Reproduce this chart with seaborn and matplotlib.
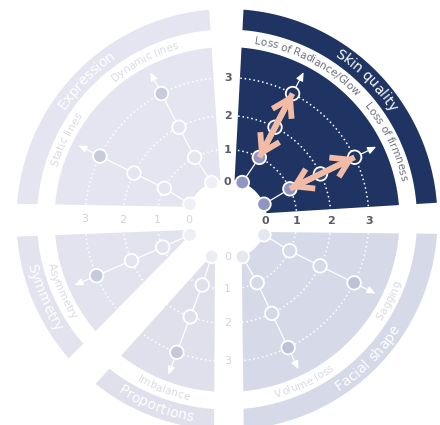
import numpy as np
import pandas as pd
import matplotlib
matplotlib.use("Agg")
import matplotlib.pyplot as plt
import seaborn as sns
from matplotlib.patches import Polygon, FancyArrowPatch
from matplotlib.font_manager import FontProperties, findfont, get_font

# ---------------- data ----------------
categories = ["Skin quality", "Expression", "Symmetry", "Proportions", "Facial shape"]
indicators = ["Loss of firmness", "Loss of Radiance/Glow", "Dynamic lines", "Static lines",
              "Asymmetry", "Imbalance", "Volume loss", "Sagging"]
indicator_category = ["Skin quality", "Skin quality", "Expression", "Expression",
                      "Symmetry", "Proportions", "Facial shape", "Facial shape"]
levels = [0, 1, 2, 3]
level_labels = ["0", "1", "2", "3"]
current_level = [1, 1, 3, 3, 3, 3, 3, 3]
target_level = [3, 3, None, None, None, None, None, None]
highlighted = "Skin quality"

# ---------------- layout / style ----------------
LEVEL_R = [40, 70, 104, 142]          # radial scale (px) for levels 0..3
TIP_R = 166
R_HOLE, R_WEDGE, R_BAND_IN, R_BAND_OUT = 40, 172.5, 190, 210.5
spoke_angle = [26, 62.5, 117.5, 153.5, 203.3, 249.3, 295.5, 333.5]
inner_angle = [22.5, 67.5, 112.5, 157.5, 202.5, 247.5, 292.5, 337.5]
sector_edges = {
    "Skin quality": (3.5, 3.9, 87.0, 5.5),
    "Expression": (93.8, 4.0, 179.0, 12.0),
    "Symmetry": (182.2, 9.0, 225.5, 15.5),
    "Proportions": (228.0, 12.4, 269.7, 11.8),
    "Facial shape": (270.7, 14.2, 359.4, 12.1),
}
sector_color = {
    "Skin quality": "#1f3462",
    "Expression": "#e4e5f0",
    "Symmetry": "#e2e3ef",
    "Proportions": "#dfe0ec",
    "Facial shape": "#d6d9e7",
}
NAVY = "#1f3462"
LAVENDER = "#9195c6"
MID_NAVY = "#34487b"
PEACH = "#f2bba6"
FONT = "DejaVu Sans"


def radius(level):
    return np.interp(level, levels, LEVEL_R)


def mix(c1, c2, t):
    a = np.array(matplotlib.colors.to_rgb(c1))
    b = np.array(matplotlib.colors.to_rgb(c2))
    return matplotlib.colors.to_hex((1 - t) * a + t * b)


def pol(r, deg):
    a = np.radians(deg)
    return r * np.cos(a), r * np.sin(a)


def edge_point(phi, d, r, start):
    p = np.radians(phi)
    u = np.array([np.cos(p), np.sin(p)])
    n = np.array([-np.sin(p), np.cos(p)]) if start else np.array([np.sin(p), -np.cos(p)])
    s = np.sqrt(max(r * r - d * d, 0))
    return d * n + s * u


def ang_of(v):
    return np.degrees(np.arctan2(v[1], v[0])) % 360


def sector_poly(edges, r_in, r_out, n=160):
    phi1, d1, phi2, d2 = edges
    a1o = ang_of(edge_point(phi1, d1, r_out, True))
    a2o = ang_of(edge_point(phi2, d2, r_out, False))
    a1i = ang_of(edge_point(phi1, d1, r_in, True))
    a2i = ang_of(edge_point(phi2, d2, r_in, False))
    if a2o < a1o:
        a2o += 360
    if a2i < a1i:
        a2i += 360
    to = np.radians(np.linspace(a1o, a2o, n))
    ti = np.radians(np.linspace(a2i, a1i, n))
    xs = np.concatenate([r_out * np.cos(to), r_in * np.cos(ti)])
    ys = np.concatenate([r_out * np.sin(to), r_in * np.sin(ti)])
    return np.column_stack([xs, ys]), (a1o + a2o) / 2


def char_adv(text, size, weight="normal"):
    fp = FontProperties(family=FONT, weight=weight, size=size)
    font = get_font(findfont(fp))
    font.set_size(size, 100)
    return np.array([font.load_char(ord(ch)).linearHoriAdvance / 65536.0 for ch in text])


def arc_text(ax, text, center_deg, r_mid, size, color, clockwise, weight="normal", z=8):
    adv = char_adv(text, size, weight)
    total = adv.sum()
    offs = np.cumsum(np.concatenate([[0], adv[:-1]])) + adv / 2 - total / 2
    em = size * 100 / 72.0
    for ch, o in zip(text, offs):
        if ch == " ":
            continue
        if clockwise:
            ang = center_deg - np.degrees(o / r_mid)
            rb = r_mid - 0.33 * em
            rot = ang - 90
        else:
            ang = center_deg + np.degrees(o / r_mid)
            rb = r_mid + 0.33 * em
            rot = ang + 90
        x, y = pol(rb, ang)
        ax.text(x, y, ch, rotation=rot, rotation_mode="anchor", ha="center",
                va="baseline", fontsize=size, color=color, family=FONT,
                fontweight=weight, zorder=z)


sns.set_theme(style="white")
plt.rcParams["font.family"] = [FONT]

fig = plt.figure(figsize=(4.4, 4.25), dpi=100)
ax = fig.add_axes([0, 0, 1, 1])
ax.set_xlim(-227, 213)
ax.set_ylim(-205.5, 219.5)
ax.axis("off")

# ---- sectors and bands ----
label_clockwise = {"Skin quality": True, "Expression": True, "Symmetry": False,
                   "Proportions": False, "Facial shape": False}
for cat in categories:
    col = sector_color[cat]
    verts, mid = sector_poly(sector_edges[cat], R_HOLE, R_WEDGE)
    ax.add_patch(Polygon(verts, closed=True, facecolor=col, edgecolor="none", zorder=1))
    verts_b, mid_b = sector_poly(sector_edges[cat], R_BAND_IN, R_BAND_OUT)
    ax.add_patch(Polygon(verts_b, closed=True, facecolor=col, edgecolor="none", zorder=1))
    arc_text(ax, cat, mid_b, (R_BAND_IN + R_BAND_OUT) / 2, 10, "white", label_clockwise[cat])

# ---- dotted level rings ----
th = np.linspace(0, 2 * np.pi, 721)
for lv in levels[1:]:
    r = radius(lv)
    ax.plot(r * np.cos(th), r * np.sin(th), color="white", lw=1.1,
            linestyle=(0, (1, 1.9)), zorder=2)

# ---- build point and spoke tables ----
rows, spokes = [], []
for i, ind in enumerate(indicators):
    cat = indicator_category[i]
    base = sector_color[cat]
    for lv in levels:
        a = inner_angle[i] if lv == 0 else spoke_angle[i]
        x, y = pol(radius(lv), a)
        if cat == highlighted:
            if lv <= current_level[i]:
                fc = LAVENDER
            elif target_level[i] is not None and lv == target_level[i]:
                fc = NAVY
            else:
                fc = MID_NAVY
        else:
            if lv == current_level[i]:
                fc = mix(base, "#8e92b5", 0.32)
            elif lv == 0:
                fc = mix(base, "#ffffff", 0.4)
            else:
                fc = base
        rows.append(dict(indicator=ind, level=lv, x=x, y=y, fc=fc))
        spokes.append(dict(indicator=ind, order=lv, x=x, y=y))
pts = pd.DataFrame(rows)
spk = pd.DataFrame(spokes)

sns.lineplot(data=spk, x="x", y="y", units="indicator", estimator=None, sort=False,
             color="white", lw=0.9, ax=ax, zorder=3, legend=False)

# white outward arrows from level 3
for i, ind in enumerate(indicators):
    p3 = pol(radius(levels[-1]), spoke_angle[i])
    tip = pol(TIP_R, spoke_angle[i])
    ax.annotate("", xy=tip, xytext=p3,
                arrowprops=dict(arrowstyle="-|>,head_length=0.5,head_width=0.22",
                                mutation_scale=10, color="white", lw=0.9,
                                shrinkA=0, shrinkB=0), zorder=3)

palette = {c: c for c in pts["fc"].unique()}
sns.scatterplot(data=pts, x="x", y="y", hue="fc", palette=palette, s=95,
                edgecolor="white", linewidth=1.3, ax=ax, zorder=4, legend=False)

# peach improvement arrows (shaft + open chevron heads)
for i, ind in enumerate(indicators):
    if target_level[i] is None:
        continue
    a = pol(radius(current_level[i]), spoke_angle[i])
    b = pol(radius(target_level[i]), spoke_angle[i])
    ax.plot([a[0], b[0]], [a[1], b[1]], color=PEACH, lw=4.2,
            solid_capstyle="butt", zorder=6)
    arr = FancyArrowPatch(a, b, arrowstyle="<->,head_length=1.25,head_width=0.78",
                          mutation_scale=10, color=PEACH, lw=4.2, shrinkA=0,
                          shrinkB=0, zorder=6, capstyle="butt", joinstyle="miter")
    ax.add_patch(arr)

# ---- tick labels along the four axes ----
tick_dirs = [(0, "#5a5a64", "bold"), (90, "#5a5a64", "bold"),
             (180, "#d2d3de", "normal"), (270, "#d2d3de", "normal")]
for deg, col, wt in tick_dirs:
    for lv, lab in zip(levels, level_labels):
        r = radius(lv) - (2 if lv == 0 else 0)
        x, y = pol(r, deg)
        if deg == 0:
            y -= 1.2
        elif deg == 90 or deg == 270:
            x += 0.7
        ax.text(x, y, lab, ha="center", va="center", fontsize=8, color=col,
                fontweight=wt, zorder=7)

# ---- indicator labels in the white gaps ----
clockwise_ind = [True, True, True, True, False, False, False, False]
for i, ind in enumerate(indicators):
    cat = indicator_category[i]
    col = "#707080" if cat == highlighted else "#dadae6"
    arc_text(ax, ind, spoke_angle[i], (R_WEDGE + R_BAND_IN) / 2, 7.6, col,
             clockwise_ind[i])

fig.savefig("out.png", dpi=100)
